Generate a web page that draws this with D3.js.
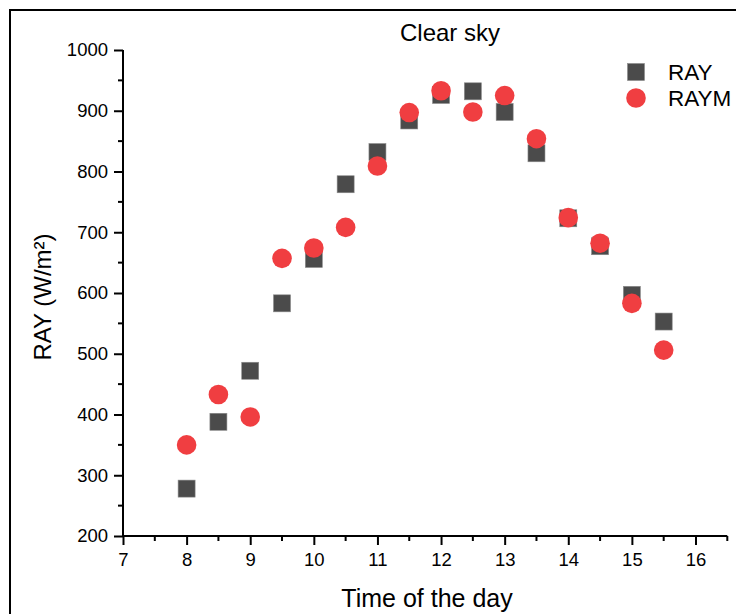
<!DOCTYPE html>
<html>
<head>
<meta charset="utf-8">
<script src="https://cdn.jsdelivr.net/npm/d3@7/dist/d3.min.js"></script>
<style>
  html, body { margin: 0; padding: 0; background: #fff; }
  svg { display: block; font-family: "Liberation Sans", Arial, sans-serif; }
</style>
</head>
<body>
<svg id="chart" width="736" height="614"></svg>
<script>
// Hour of day for each measurement
const hours = [8, 8.5, 9, 9.5, 10, 10.5, 11, 11.5, 12, 12.5, 13, 13.5, 14, 14.5, 15, 15.5];
// Irradiance series (W/m²)
const ray  = [278, 388, 472, 583, 656, 779, 832, 884, 926, 932, 898, 830, 723, 677, 597, 553];
const raym = [350, 433, 396, 657, 674, 708, 809, 897, 933, 898, 925, 854, 724, 682, 583, 506];
// Axis ticks
const xTicks = [7, 8, 9, 10, 11, 12, 13, 14, 15, 16];
const xMinor = [7.5, 8.5, 9.5, 10.5, 11.5, 12.5, 13.5, 14.5, 15.5, 16.5];
const yTicks = [200, 300, 400, 500, 600, 700, 800, 900, 1000];
const yMinor = [250, 350, 450, 550, 650, 750, 850, 950];
const seriesNames = ["RAY", "RAYM"];

const svg = d3.select("#chart");
const x = d3.scaleLinear().domain([7, 16.5]).range([123, 727.3]);
const y = d3.scaleLinear().domain([200, 1000]).range([536, 50]);

// Outer frame (left and top edges)
svg.append("path")
  .attr("d", "M10,614 L10,10 L736,10")
  .attr("fill", "none").attr("stroke", "#000").attr("stroke-width", 2);

// Title
svg.append("text").attr("x", 450).attr("y", 41)
  .attr("text-anchor", "middle").attr("font-size", 24).text("Clear sky");

// X axis
const gx = svg.append("g").attr("transform", `translate(0,${y(200)})`);
gx.call(d3.axisBottom(x).tickValues(xTicks).tickSize(9).tickPadding(8).tickFormat(d3.format("d")));
gx.selectAll(".minor").data(xMinor).enter().append("line").attr("class", "minor")
  .attr("x1", d => x(d)).attr("x2", d => x(d)).attr("y1", 0).attr("y2", 5)
  .attr("stroke", "#000").attr("stroke-width", 2);

// Y axis
const gy = svg.append("g").attr("transform", `translate(${x(7)},0)`);
gy.call(d3.axisLeft(y).tickValues(yTicks).tickSize(9).tickPadding(6).tickFormat(d3.format("d")));
gy.selectAll(".minor").data(yMinor).enter().append("line").attr("class", "minor")
  .attr("y1", d => y(d)).attr("y2", d => y(d)).attr("x1", 0).attr("x2", -5)
  .attr("stroke", "#000").attr("stroke-width", 2);

[gx, gy].forEach(g => {
  g.select(".domain").attr("stroke", "#000").attr("stroke-width", 2)
    .attr("d", g === gx ? `M${x(7)},0H${x(16.5)}` : `M0,${y(200)}V${y(1000)}`);
  g.selectAll(".tick line").attr("stroke", "#000").attr("stroke-width", 2);
  g.selectAll(".tick text").attr("fill", "#000").attr("font-size", 18.5)
    .attr("font-family", "Liberation Sans, Arial, sans-serif");
});

// Axis titles
svg.append("text").attr("x", 427).attr("y", 607)
  .attr("text-anchor", "middle").attr("font-size", 25).text("Time of the day");
svg.append("text").attr("transform", `translate(51,${(y(200)+y(1000))/2 + 4}) rotate(-90)`)
  .attr("text-anchor", "middle").attr("font-size", 24)
  .text("RAY (W/m²)");

const sq = 17, rad = 9.8;
const sqColor = "#4b4b4b", circColor = "#f03e41";

// RAY squares
svg.append("g").selectAll("rect").data(hours.map((h, i) => [h, ray[i]])).enter().append("rect")
  .attr("x", d => x(d[0]) - sq / 2).attr("y", d => y(d[1]) - sq / 2)
  .attr("width", sq).attr("height", sq)
  .attr("fill", sqColor).attr("stroke", "#8a8a8a").attr("stroke-width", 0.6);

// RAYM circles
svg.append("g").selectAll("circle").data(hours.map((h, i) => [h, raym[i]])).enter().append("circle")
  .attr("cx", d => x(d[0])).attr("cy", d => y(d[1])).attr("r", rad)
  .attr("fill", circColor);

// Legend
const lg = svg.append("g");
lg.append("rect").attr("x", 636 - sq / 2).attr("y", 72 - sq / 2).attr("width", sq).attr("height", sq)
  .attr("fill", sqColor).attr("stroke", "#8a8a8a").attr("stroke-width", 0.6);
lg.append("circle").attr("cx", 636).attr("cy", 98).attr("r", rad).attr("fill", circColor);
lg.selectAll("text").data(seriesNames).enter().append("text")
  .attr("x", 668).attr("y", (d, i) => 80 + i * 26).attr("font-size", 22.5).text(d => d);
</script>
</body>
</html>
